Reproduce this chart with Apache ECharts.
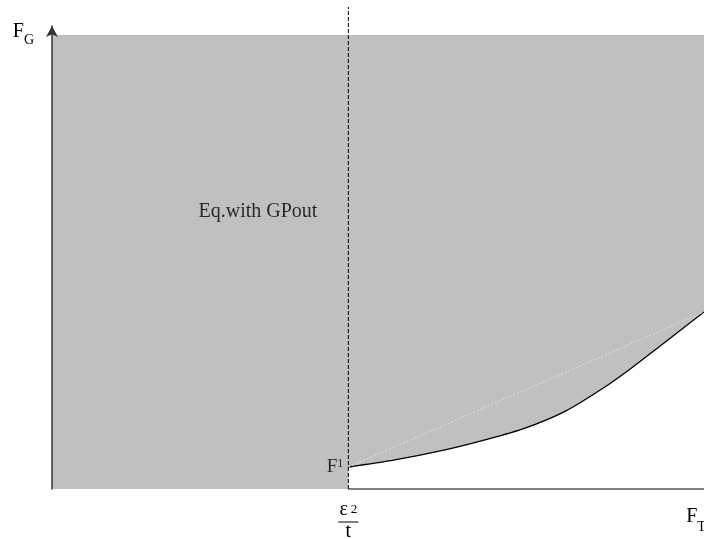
<!DOCTYPE html>
<html><head><meta charset="utf-8">
<script src="https://cdn.jsdelivr.net/npm/echarts@6/dist/echarts.min.js"></script>
<style>html,body{margin:0;padding:0;background:#fff}#c{width:704px;height:539px}</style>
</head><body><div id="c"></div>
<script>
// ---- data ----
const xRange = [0, 2.2];
const yRange = [0, 10.2];
const thresholdX = 1;            // ε²/t
const regionTop = 10;            // upper edge of shaded region
const dashedTop = 10.62;         // top of dashed threshold line
const curveX = [1.0, 1.157, 1.326, 1.461, 1.596, 1.731, 1.859, 1.950, 2.052, 2.2];
const curveY = [0.485, 0.64, 0.86, 1.08, 1.34, 1.71, 2.22, 2.64, 3.15, 3.90];
const xTickValues = [1, 2.2];
const regionLabel = 'Eq.with GPout';
const regionLabelPos = [0.695, 6.1];

// ---- chart ----
const FF = 'Liberation Serif';
const curve = curveX.map((x, i) => [x, curveY[i]]);
const chart = echarts.init(document.getElementById('c'), null, {renderer: 'canvas'});
chart.setOption({
  animation: false,
  backgroundColor: '#fff',
  grid: {left: 52, right: 0, top: 26, bottom: 50, containLabel: false, outerBoundsMode: 'none'},
  xAxis: {
    type: 'value', min: xRange[0], max: xRange[1],
    axisLine: {show: false}, axisTick: {show: false}, splitLine: {show: false},
    axisLabel: {
      customValues: xTickValues, margin: 15, hideOverlap: false,
      formatter: v => v === thresholdX ? '{e|ε}{p|2}\n{bar| }\n{t|t}' : '{f|F}{s|T}{pad| }',
      rich: {
        e: {fontFamily: FF, fontSize: 20, lineHeight: 16, color: '#000', verticalAlign: 'bottom'},
        p: {fontFamily: FF, fontSize: 13, lineHeight: 13, color: '#000', verticalAlign: 'bottom', padding: [0, 0, 4, 3]},
        bar: {fontSize: 1, width: 20, height: 1, lineHeight: 4, backgroundColor: '#000'},
        t: {fontFamily: FF, fontSize: 20, lineHeight: 16, color: '#000'},
        f: {fontFamily: FF, fontSize: 20, lineHeight: 30, color: '#000', padding: [0, 0, 7, 0], verticalAlign: 'bottom'},
        s: {fontFamily: FF, fontSize: 14, lineHeight: 14, color: '#000', verticalAlign: 'bottom'},
        pad: {fontSize: 1, width: 16}
      }
    }
  },
  yAxis: {
    type: 'value', min: yRange[0], max: yRange[1], z: 10,
    axisLine: {show: true, symbol: ['none', 'arrow'], symbolSize: [9, 11], lineStyle: {color: '#333', width: 1.5}},
    axisTick: {show: false}, axisLabel: {show: false}, splitLine: {show: false},
    name: '{f|F}{s|G}', nameLocation: 'end', nameGap: -11,
    nameTextStyle: {
      align: 'right', verticalAlign: 'middle', padding: [0, 18, 0, 0],
      rich: {
        f: {fontFamily: FF, fontSize: 20, lineHeight: 20, color: '#000', padding: [0, 0, 5, 0], verticalAlign: 'bottom'},
        s: {fontFamily: FF, fontSize: 14, lineHeight: 14, color: '#000', verticalAlign: 'bottom'}
      }
    }
  },
  series: [
    {type: 'line', z: 1, silent: true, symbol: 'none',
     data: [[xRange[0], regionTop], [xRange[1], regionTop]],
     lineStyle: {width: 0}, areaStyle: {color: '#c0c0c0', opacity: 1, origin: 'start'}},
    {type: 'line', z: 2, silent: true, symbol: 'none', smooth: 0.3,
     data: curve, lineStyle: {color: '#000', width: 1.3},
     areaStyle: {color: '#fff', opacity: 1, origin: 'start'}},
    {type: 'line', z: 3, silent: true, symbol: 'none',
     data: [curve[0], curve[curve.length - 1]],
     lineStyle: {color: '#e2e2e2', width: 1, type: [2, 2]}},
    {type: 'line', z: 4, silent: true, symbol: 'none', clip: false,
     data: [[thresholdX, 0], [thresholdX, dashedTop]],
     lineStyle: {color: '#000', width: 1, type: [4, 2]}},
    {type: 'line', z: 4, silent: true, symbol: 'none', clip: false,
     data: [[thresholdX, 0], [xRange[1], 0]],
     lineStyle: {color: '#000', width: 1}},
    {type: 'scatter', z: 5, silent: true, symbolSize: 0,
     data: [curve[0]],
     label: {show: true, position: 'left', distance: 5, color: '#000', formatter: '{f|F}{s|1}',
       rich: {
         f: {fontFamily: FF, fontSize: 19, lineHeight: 19, color: '#000', padding: [4, 0, 0, 0], verticalAlign: 'bottom'},
         s: {fontFamily: FF, fontSize: 12, lineHeight: 12, color: '#000', verticalAlign: 'top'}
       }}},
    {type: 'scatter', z: 5, silent: true, symbolSize: 0,
     data: [regionLabelPos],
     label: {show: true, position: 'inside', formatter: regionLabel,
       fontFamily: FF, fontSize: 20, color: '#000'}}
  ]
});
</script>
</body></html>
